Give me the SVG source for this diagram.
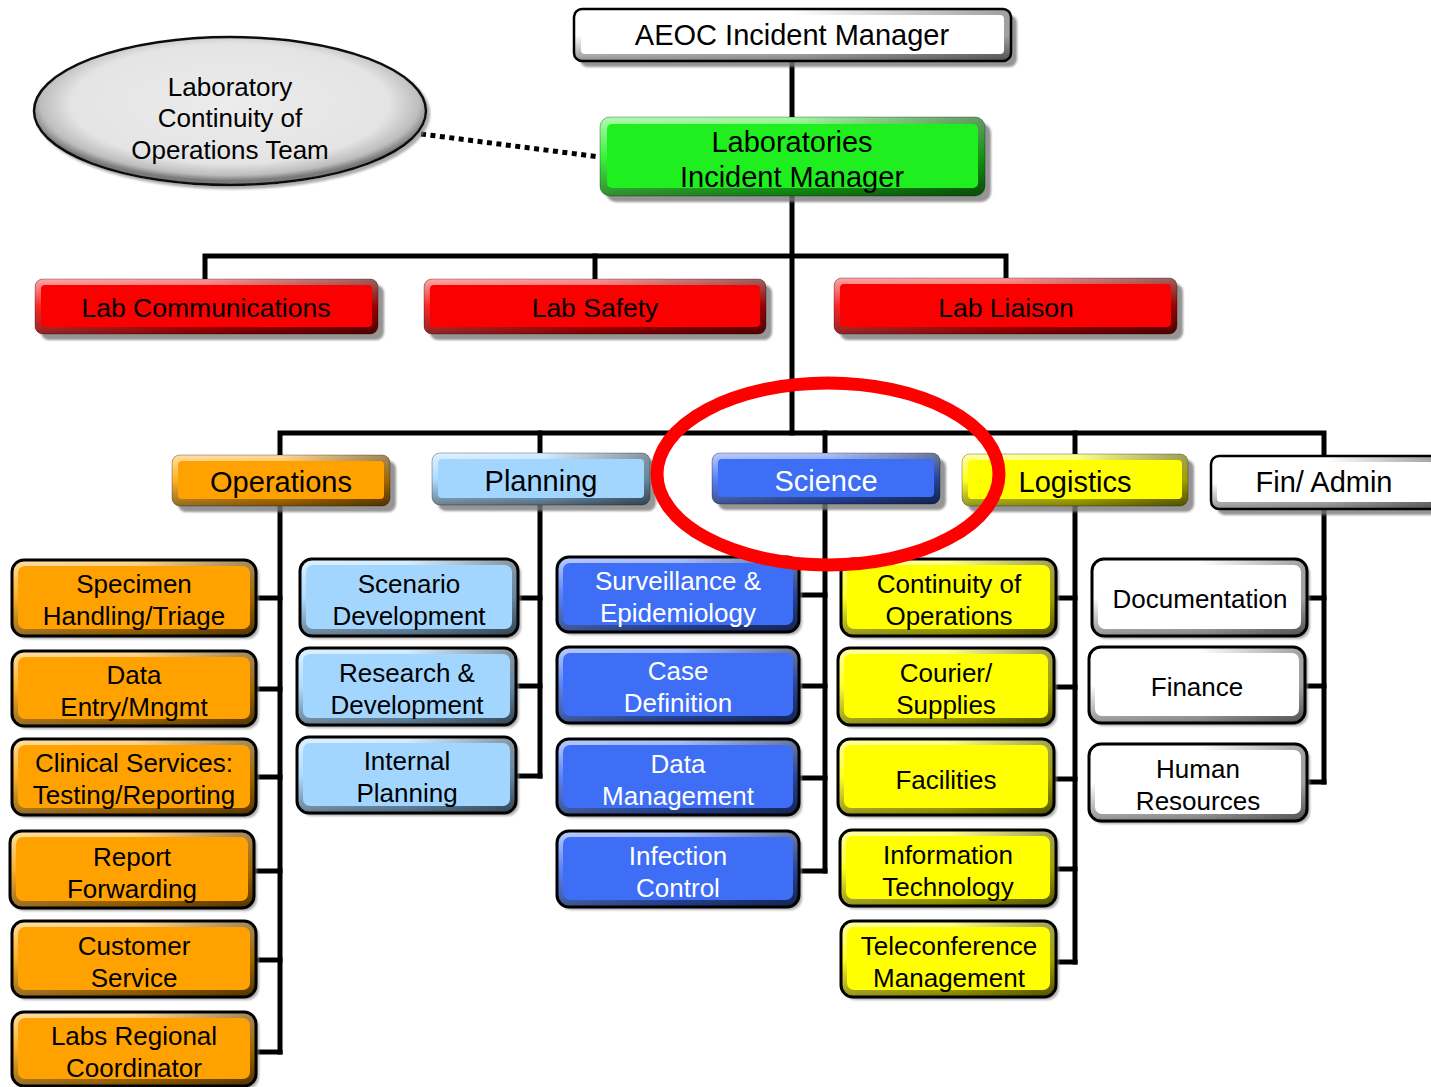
<svg xmlns="http://www.w3.org/2000/svg" width="1431" height="1087" viewBox="0 0 1431 1087">
<defs>
<linearGradient id="gv" x1="0" y1="0" x2="0" y2="1">
<stop offset="0" stop-color="#fff" stop-opacity="0.6"/>
<stop offset="0.5" stop-color="#fff" stop-opacity="0"/>
<stop offset="0.5" stop-color="#000" stop-opacity="0"/>
<stop offset="1" stop-color="#000" stop-opacity="0.5"/>
</linearGradient>
<linearGradient id="gh" x1="0" y1="0" x2="1" y2="0">
<stop offset="0" stop-color="#fff" stop-opacity="0.15"/>
<stop offset="0.5" stop-color="#fff" stop-opacity="0"/>
<stop offset="0.5" stop-color="#000" stop-opacity="0"/>
<stop offset="1" stop-color="#000" stop-opacity="0.38"/>
</linearGradient>
<radialGradient id="ge" cx="0.5" cy="0.45" r="0.52">
<stop offset="0" stop-color="#ececec"/>
<stop offset="0.78" stop-color="#e4e4e4"/>
<stop offset="0.93" stop-color="#bdbdbd"/>
<stop offset="1" stop-color="#7a7a7a"/>
</radialGradient>
<filter id="sh2" x="-5%" y="-10%" width="115%" height="135%">
<feDropShadow dx="6" dy="6" stdDeviation="1.2" flood-color="#7a7a7a" flood-opacity="0.8"/>
</filter>
<filter id="sh3" x="-5%" y="-10%" width="115%" height="130%">
<feDropShadow dx="3" dy="3" stdDeviation="1" flood-color="#8a8a8a" flood-opacity="0.7"/>
</filter>
</defs>
<style>
text{font-family:"Liberation Sans",Arial,Helvetica,sans-serif;text-anchor:middle;fill:#000}
.L3 text{font-size:26px}
.L2 text{font-size:29px}
.L1 text{font-size:26.5px}
.top text{font-size:29px}
.ell text{font-size:26px}
.f{stroke:none}
.L2 .f,.L1 .f,.top .f{filter:url(#sh2)}
.L3 .f{filter:url(#sh3)}
.e{fill:url(#gv)}
.h{fill:url(#gh)}
.o{fill:none}
.L3 .o{stroke:#000;stroke-width:3}
.L2 .o,.L1 .o{stroke:#000;stroke-opacity:0.3;stroke-width:1}
.bd .o{stroke:#000;stroke-opacity:1;stroke-width:2.5}
.org .f,.org .i{fill:#FFA200}
.pln .f,.pln .i{fill:#A2D6FF}
.sci .f,.sci .i{fill:#3D6EF5}
.sci text{fill:#fff}
.log .f,.log .i{fill:#FFFF00}
.wht .f,.wht .i{fill:#fff}
.red .f,.red .i{fill:#FA0000}
.grn .f,.grn .i{fill:#1FEF1F}
.conn path{fill:none;stroke:#000;stroke-width:5;stroke-linecap:square}
.conn path.dot{stroke-linecap:butt;stroke-width:5;stroke-dasharray:5 4.5}
</style>

<g id="connectors" class="conn">
<path d="M792 61V117"/>
<path d="M792 196V433"/>
<path d="M205 279V256H1006V278"/>
<path d="M595 256V279"/>
<path d="M280 455V433H1324V456"/>
<path d="M540 433V453"/>
<path d="M825 433V453"/>
<path d="M1075 433V454"/>
<path d="M280 506V1052"/>
<path d="M256 598H280M256 689H280M256 777H280M254 871H280M256 960H280M256 1052H280"/>
<path d="M540 505V776"/>
<path d="M518 598H540M516 686H540M516 776H540"/>
<path d="M825 504V871"/>
<path d="M799 595H825M799 686H825M799 778H825M799 871H825"/>
<path d="M1075 506V962"/>
<path d="M1056 598H1075M1054 687H1075M1054 779H1075M1056 869H1075M1056 962H1075"/>
<path d="M1324 509V782"/>
<path d="M1307 598H1324M1305 686H1324M1307 782H1324"/>
<path class="dot" d="M421 134L600 157"/>
</g>

<g id="n-lcot" class="ell">
<ellipse cx="230" cy="111" rx="196" ry="74" fill="url(#ge)" stroke="#111" stroke-width="2.5" filter="url(#sh3)"/>
<text x="230" y="96">Laboratory</text>
<text x="230" y="127">Continuity of</text>
<text x="230" y="159">Operations Team</text>
</g>

<g id="n-aeoc" class="top wht bd">
<rect class="f" x="574" y="9" width="437" height="52" rx="8"/>
<rect class="e" x="574" y="9" width="437" height="52" rx="8"/>
<rect class="h" x="574" y="9" width="437" height="52" rx="8"/>
<rect class="i" x="581" y="15" width="423" height="39" rx="4"/>
<rect class="o" x="574" y="9" width="437" height="52" rx="8"/>
<text x="792" y="45">AEOC Incident Manager</text>
</g>

<g id="n-labim" class="top grn L2">
<rect class="f" x="600" y="117" width="385" height="79" rx="10"/>
<rect class="e" x="600" y="117" width="385" height="79" rx="10"/>
<rect class="h" x="600" y="117" width="385" height="79" rx="10"/>
<rect class="i" x="607" y="124" width="371" height="64" rx="5"/>
<rect class="o" x="600" y="117" width="385" height="79" rx="10"/>
<text x="792" y="152">Laboratories</text>
<text x="792" y="187">Incident Manager</text>
</g>

<g id="n-labcomm" class="L1 red">
<rect class="f" x="35" y="279" width="343" height="55" rx="8"/>
<rect class="e" x="35" y="279" width="343" height="55" rx="8"/>
<rect class="h" x="35" y="279" width="343" height="55" rx="8"/>
<rect class="i" x="41" y="285" width="331" height="42" rx="4"/>
<rect class="o" x="35" y="279" width="343" height="55" rx="8"/>
<text x="206" y="317">Lab Communications</text>
</g>

<g id="n-labsafety" class="L1 red">
<rect class="f" x="424" y="279" width="342" height="55" rx="8"/>
<rect class="e" x="424" y="279" width="342" height="55" rx="8"/>
<rect class="h" x="424" y="279" width="342" height="55" rx="8"/>
<rect class="i" x="430" y="285" width="330" height="42" rx="4"/>
<rect class="o" x="424" y="279" width="342" height="55" rx="8"/>
<text x="595" y="317">Lab Safety</text>
</g>

<g id="n-labliaison" class="L1 red">
<rect class="f" x="834" y="278" width="343" height="56" rx="8"/>
<rect class="e" x="834" y="278" width="343" height="56" rx="8"/>
<rect class="h" x="834" y="278" width="343" height="56" rx="8"/>
<rect class="i" x="840" y="284" width="331" height="43" rx="4"/>
<rect class="o" x="834" y="278" width="343" height="56" rx="8"/>
<text x="1006" y="317">Lab Liaison</text>
</g>

<g id="n-operations" class="L2 org">
<rect class="f" x="172" y="455" width="218" height="51" rx="8"/>
<rect class="e" x="172" y="455" width="218" height="51" rx="8"/>
<rect class="h" x="172" y="455" width="218" height="51" rx="8"/>
<rect class="i" x="178" y="461" width="206" height="38" rx="4"/>
<rect class="o" x="172" y="455" width="218" height="51" rx="8"/>
<text x="281" y="492">Operations</text>
</g>

<g id="n-planning" class="L2 pln">
<rect class="f" x="432" y="453" width="218" height="52" rx="8"/>
<rect class="e" x="432" y="453" width="218" height="52" rx="8"/>
<rect class="h" x="432" y="453" width="218" height="52" rx="8"/>
<rect class="i" x="438" y="459" width="206" height="39" rx="4"/>
<rect class="o" x="432" y="453" width="218" height="52" rx="8"/>
<text x="541" y="491">Planning</text>
</g>

<g id="n-science" class="L2 sci">
<rect class="f" x="712" y="453" width="228" height="51" rx="8"/>
<rect class="e" x="712" y="453" width="228" height="51" rx="8"/>
<rect class="h" x="712" y="453" width="228" height="51" rx="8"/>
<rect class="i" x="718" y="459" width="216" height="38" rx="4"/>
<rect class="o" x="712" y="453" width="228" height="51" rx="8"/>
<text x="826" y="491">Science</text>
</g>

<g id="n-logistics" class="L2 log">
<rect class="f" x="962" y="454" width="226" height="52" rx="8"/>
<rect class="e" x="962" y="454" width="226" height="52" rx="8"/>
<rect class="h" x="962" y="454" width="226" height="52" rx="8"/>
<rect class="i" x="968" y="460" width="214" height="39" rx="4"/>
<rect class="o" x="962" y="454" width="226" height="52" rx="8"/>
<text x="1075" y="492">Logistics</text>
</g>

<g id="n-finadmin" class="L2 wht bd">
<rect class="f" x="1211" y="456" width="228" height="53" rx="8"/>
<rect class="e" x="1211" y="456" width="228" height="53" rx="8"/>
<rect class="h" x="1211" y="456" width="228" height="53" rx="8"/>
<rect class="i" x="1217" y="462" width="216" height="40" rx="4"/>
<rect class="o" x="1211" y="456" width="228" height="53" rx="8"/>
<text x="1324" y="492">Fin/ Admin</text>
</g>

<g id="n-specimen" class="L3 org">
<rect class="f" x="12" y="560" width="244" height="76" rx="12"/>
<rect class="e" x="12" y="560" width="244" height="76" rx="12"/>
<rect class="h" x="12" y="560" width="244" height="76" rx="12"/>
<rect class="i" x="18" y="566" width="232" height="63" rx="7"/>
<rect class="o" x="12" y="560" width="244" height="76" rx="12"/>
<text x="134" y="593">Specimen</text><text x="134" y="625">Handling/Triage</text>
</g>

<g id="n-dataentry" class="L3 org">
<rect class="f" x="12" y="651" width="244" height="75" rx="12"/>
<rect class="e" x="12" y="651" width="244" height="75" rx="12"/>
<rect class="h" x="12" y="651" width="244" height="75" rx="12"/>
<rect class="i" x="18" y="657" width="232" height="62" rx="7"/>
<rect class="o" x="12" y="651" width="244" height="75" rx="12"/>
<text x="134" y="684">Data</text><text x="134" y="716">Entry/Mngmt</text>
</g>

<g id="n-clinical" class="L3 org">
<rect class="f" x="12" y="739" width="244" height="76" rx="12"/>
<rect class="e" x="12" y="739" width="244" height="76" rx="12"/>
<rect class="h" x="12" y="739" width="244" height="76" rx="12"/>
<rect class="i" x="18" y="745" width="232" height="63" rx="7"/>
<rect class="o" x="12" y="739" width="244" height="76" rx="12"/>
<text x="134" y="772">Clinical Services:</text><text x="134" y="804">Testing/Reporting</text>
</g>

<g id="n-report" class="L3 org">
<rect class="f" x="10" y="831" width="244" height="77" rx="12"/>
<rect class="e" x="10" y="831" width="244" height="77" rx="12"/>
<rect class="h" x="10" y="831" width="244" height="77" rx="12"/>
<rect class="i" x="16" y="837" width="232" height="64" rx="7"/>
<rect class="o" x="10" y="831" width="244" height="77" rx="12"/>
<text x="132" y="866">Report</text><text x="132" y="898">Forwarding</text>
</g>

<g id="n-customer" class="L3 org">
<rect class="f" x="12" y="921" width="244" height="76" rx="12"/>
<rect class="e" x="12" y="921" width="244" height="76" rx="12"/>
<rect class="h" x="12" y="921" width="244" height="76" rx="12"/>
<rect class="i" x="18" y="927" width="232" height="63" rx="7"/>
<rect class="o" x="12" y="921" width="244" height="76" rx="12"/>
<text x="134" y="955">Customer</text><text x="134" y="987">Service</text>
</g>

<g id="n-labsregional" class="L3 org">
<rect class="f" x="12" y="1012" width="244" height="74" rx="12"/>
<rect class="e" x="12" y="1012" width="244" height="74" rx="12"/>
<rect class="h" x="12" y="1012" width="244" height="74" rx="12"/>
<rect class="i" x="18" y="1018" width="232" height="61" rx="7"/>
<rect class="o" x="12" y="1012" width="244" height="74" rx="12"/>
<text x="134" y="1045">Labs Regional</text><text x="134" y="1077">Coordinator</text>
</g>

<g id="n-scenario" class="L3 pln">
<rect class="f" x="300" y="559" width="218" height="77" rx="12"/>
<rect class="e" x="300" y="559" width="218" height="77" rx="12"/>
<rect class="h" x="300" y="559" width="218" height="77" rx="12"/>
<rect class="i" x="306" y="565" width="206" height="64" rx="7"/>
<rect class="o" x="300" y="559" width="218" height="77" rx="12"/>
<text x="409" y="593">Scenario</text><text x="409" y="625">Development</text>
</g>

<g id="n-research" class="L3 pln">
<rect class="f" x="297" y="648" width="219" height="77" rx="12"/>
<rect class="e" x="297" y="648" width="219" height="77" rx="12"/>
<rect class="h" x="297" y="648" width="219" height="77" rx="12"/>
<rect class="i" x="303" y="654" width="207" height="64" rx="7"/>
<rect class="o" x="297" y="648" width="219" height="77" rx="12"/>
<text x="407" y="682">Research &amp;</text><text x="407" y="714">Development</text>
</g>

<g id="n-internal" class="L3 pln">
<rect class="f" x="297" y="737" width="219" height="76" rx="12"/>
<rect class="e" x="297" y="737" width="219" height="76" rx="12"/>
<rect class="h" x="297" y="737" width="219" height="76" rx="12"/>
<rect class="i" x="303" y="743" width="207" height="63" rx="7"/>
<rect class="o" x="297" y="737" width="219" height="76" rx="12"/>
<text x="407" y="770">Internal</text><text x="407" y="802">Planning</text>
</g>

<g id="n-surveillance" class="L3 sci">
<rect class="f" x="557" y="557" width="242" height="75" rx="12"/>
<rect class="e" x="557" y="557" width="242" height="75" rx="12"/>
<rect class="h" x="557" y="557" width="242" height="75" rx="12"/>
<rect class="i" x="563" y="563" width="230" height="62" rx="7"/>
<rect class="o" x="557" y="557" width="242" height="75" rx="12"/>
<text x="678" y="590">Surveillance &amp;</text><text x="678" y="622">Epidemiology</text>
</g>

<g id="n-casedef" class="L3 sci">
<rect class="f" x="557" y="647" width="242" height="76" rx="12"/>
<rect class="e" x="557" y="647" width="242" height="76" rx="12"/>
<rect class="h" x="557" y="647" width="242" height="76" rx="12"/>
<rect class="i" x="563" y="653" width="230" height="63" rx="7"/>
<rect class="o" x="557" y="647" width="242" height="76" rx="12"/>
<text x="678" y="680">Case</text><text x="678" y="712">Definition</text>
</g>

<g id="n-datamgmt" class="L3 sci">
<rect class="f" x="557" y="739" width="242" height="76" rx="12"/>
<rect class="e" x="557" y="739" width="242" height="76" rx="12"/>
<rect class="h" x="557" y="739" width="242" height="76" rx="12"/>
<rect class="i" x="563" y="745" width="230" height="63" rx="7"/>
<rect class="o" x="557" y="739" width="242" height="76" rx="12"/>
<text x="678" y="773">Data</text><text x="678" y="805">Management</text>
</g>

<g id="n-infection" class="L3 sci">
<rect class="f" x="557" y="831" width="242" height="76" rx="12"/>
<rect class="e" x="557" y="831" width="242" height="76" rx="12"/>
<rect class="h" x="557" y="831" width="242" height="76" rx="12"/>
<rect class="i" x="563" y="837" width="230" height="63" rx="7"/>
<rect class="o" x="557" y="831" width="242" height="76" rx="12"/>
<text x="678" y="865">Infection</text><text x="678" y="897">Control</text>
</g>

<g id="n-continuity" class="L3 log">
<rect class="f" x="841" y="559" width="215" height="77" rx="12"/>
<rect class="e" x="841" y="559" width="215" height="77" rx="12"/>
<rect class="h" x="841" y="559" width="215" height="77" rx="12"/>
<rect class="i" x="847" y="565" width="203" height="64" rx="7"/>
<rect class="o" x="841" y="559" width="215" height="77" rx="12"/>
<text x="949" y="593">Continuity of</text><text x="949" y="625">Operations</text>
</g>

<g id="n-courier" class="L3 log">
<rect class="f" x="838" y="648" width="216" height="77" rx="12"/>
<rect class="e" x="838" y="648" width="216" height="77" rx="12"/>
<rect class="h" x="838" y="648" width="216" height="77" rx="12"/>
<rect class="i" x="844" y="654" width="204" height="64" rx="7"/>
<rect class="o" x="838" y="648" width="216" height="77" rx="12"/>
<text x="946" y="682">Courier/</text><text x="946" y="714">Supplies</text>
</g>

<g id="n-facilities" class="L3 log">
<rect class="f" x="838" y="739" width="216" height="76" rx="12"/>
<rect class="e" x="838" y="739" width="216" height="76" rx="12"/>
<rect class="h" x="838" y="739" width="216" height="76" rx="12"/>
<rect class="i" x="844" y="745" width="204" height="63" rx="7"/>
<rect class="o" x="838" y="739" width="216" height="76" rx="12"/>
<text x="946" y="789">Facilities</text>
</g>

<g id="n-infotech" class="L3 log">
<rect class="f" x="840" y="830" width="216" height="76" rx="12"/>
<rect class="e" x="840" y="830" width="216" height="76" rx="12"/>
<rect class="h" x="840" y="830" width="216" height="76" rx="12"/>
<rect class="i" x="846" y="836" width="204" height="63" rx="7"/>
<rect class="o" x="840" y="830" width="216" height="76" rx="12"/>
<text x="948" y="864">Information</text><text x="948" y="896">Technology</text>
</g>

<g id="n-teleconf" class="L3 log">
<rect class="f" x="841" y="921" width="215" height="76" rx="12"/>
<rect class="e" x="841" y="921" width="215" height="76" rx="12"/>
<rect class="h" x="841" y="921" width="215" height="76" rx="12"/>
<rect class="i" x="847" y="927" width="203" height="63" rx="7"/>
<rect class="o" x="841" y="921" width="215" height="76" rx="12"/>
<text x="949" y="955">Teleconference</text><text x="949" y="987">Management</text>
</g>

<g id="n-documentation" class="L3 wht">
<rect class="f" x="1092" y="559" width="215" height="77" rx="12"/>
<rect class="e" x="1092" y="559" width="215" height="77" rx="12"/>
<rect class="h" x="1092" y="559" width="215" height="77" rx="12"/>
<rect class="i" x="1098" y="565" width="203" height="64" rx="7"/>
<rect class="o" x="1092" y="559" width="215" height="77" rx="12"/>
<text x="1200" y="608">Documentation</text>
</g>

<g id="n-finance" class="L3 wht">
<rect class="f" x="1089" y="647" width="216" height="76" rx="12"/>
<rect class="e" x="1089" y="647" width="216" height="76" rx="12"/>
<rect class="h" x="1089" y="647" width="216" height="76" rx="12"/>
<rect class="i" x="1095" y="653" width="204" height="63" rx="7"/>
<rect class="o" x="1089" y="647" width="216" height="76" rx="12"/>
<text x="1197" y="696">Finance</text>
</g>

<g id="n-humanres" class="L3 wht">
<rect class="f" x="1089" y="744" width="218" height="77" rx="12"/>
<rect class="e" x="1089" y="744" width="218" height="77" rx="12"/>
<rect class="h" x="1089" y="744" width="218" height="77" rx="12"/>
<rect class="i" x="1095" y="750" width="206" height="64" rx="7"/>
<rect class="o" x="1089" y="744" width="218" height="77" rx="12"/>
<text x="1198" y="778">Human</text><text x="1198" y="810">Resources</text>
</g>

<ellipse id="highlight-ring" cx="828" cy="474" rx="171" ry="91" fill="none" stroke="#FF0000" stroke-width="13"/>
</svg>
